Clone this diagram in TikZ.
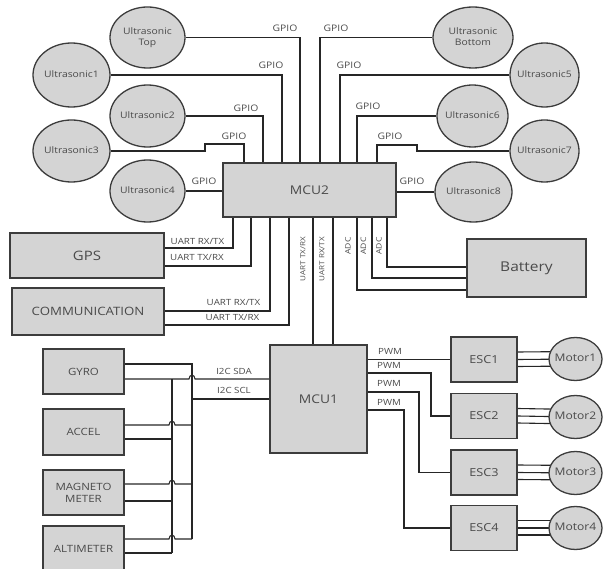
\documentclass[tikz,border=0pt]{standalone}
\usepackage{fontspec}
\setmainfont{Open Sans}[FakeStretch=1.15]
\usetikzlibrary{shapes.geometric,calc,backgrounds}
\definecolor{boxfill}{HTML}{D4D4D4}
\definecolor{edgec}{HTML}{3C3C3C}
\definecolor{txtc}{HTML}{4A4A4A}
\definecolor{wirec}{HTML}{262626}
\newcommand{\zbox}[1]{\makebox[0pt][c]{\begin{tabular}{@{}c@{}}#1\end{tabular}}}
\begin{document}
\begin{tikzpicture}[x=1pt,y=-1pt,
  blk/.style={draw=edgec,fill=boxfill,line width=1.3pt,inner sep=0pt,text=txtc},
  usn/.style={ellipse,draw=edgec,fill=boxfill,line width=1.3pt,inner sep=0pt,text=txtc,font=\fontsize{9}{11}\selectfont},
  wire/.style={draw=wirec,line width=1.1pt},
  thickwire/.style={draw=wirec,line width=1.9pt},
  lbl/.style={inner sep=0pt,text=txtc,font=\fontsize{8.5}{9}\selectfont},
  gpio/.style={lbl,font=\fontsize{9}{9}\selectfont},
  vlbl/.style={lbl,rotate=90,font=\fontsize{7}{8}\selectfont}]
\useasboundingbox (0,0) rectangle (603,569);

% main blocks
\node[blk,minimum width=173pt,minimum height=54pt,font=\fontsize{12}{14}\selectfont] (mcu2) at (309.5,190) {MCU2};
\node[blk,minimum width=97pt,minimum height=108pt,font=\fontsize{12}{14}\selectfont] (mcu1) at (318.5,399) {MCU1};
\node[blk,minimum width=154pt,minimum height=45pt,font=\fontsize{13}{15}\selectfont] (gps) at (87,255.5) {GPS};
\node[blk,minimum width=152pt,minimum height=47pt,font=\fontsize{11.5}{13}\selectfont] (comm) at (88,311.5) {COMMUNICATION};
\node[blk,minimum width=119pt,minimum height=58pt,font=\fontsize{13.5}{15}\selectfont] (battery) at (526.5,268) {Battery};

% sensors
\node[blk,minimum width=81pt,minimum height=45pt,font=\fontsize{10}{12}\selectfont] (gyro) at (83.5,371.5) {GYRO};
\node[blk,minimum width=81pt,minimum height=46pt,font=\fontsize{10}{12}\selectfont] (accel) at (83.5,432) {ACCEL};
\node[blk,minimum width=81pt,minimum height=45pt,font=\fontsize{10}{12}\selectfont,align=center] (magneto) at (83.5,492.5) {MAGNETO\\METER};
\node[blk,minimum width=81pt,minimum height=46pt,font=\fontsize{10}{12}\selectfont] (alt) at (83.5,549) {ALTIMETER};

% ESCs and motors
\foreach \i/\y/\my in {1/359.5/359,2/416/417,3/472.5/473,4/528/528}{
  \node[blk,minimum width=66pt,minimum height=45pt,font=\fontsize{11}{13}\selectfont] (esc\i) at (484,\y) {ESC\i};
  \node[usn,minimum width=53pt,minimum height=43pt,font=\fontsize{10.5}{12}\selectfont] (motor\i) at (575.5,\my) {\zbox{Motor\i}};
}

% ultrasonic sensors
\node[usn,minimum width=75pt,minimum height=61pt] (ustop) at (147.5,37.5) {\zbox{Ultrasonic\\Top}};
\node[usn,minimum width=77pt,minimum height=64pt] (us1) at (71.5,75) {\zbox{Ultrasonic1}};
\node[usn,minimum width=75pt,minimum height=62pt] (us2) at (147.5,116) {\zbox{Ultrasonic2}};
\node[usn,minimum width=77pt,minimum height=62pt] (us3) at (71.5,151) {\zbox{Ultrasonic3}};
\node[usn,minimum width=75pt,minimum height=62pt] (us4) at (147.5,191) {\zbox{Ultrasonic4}};
\node[usn,minimum width=80pt,minimum height=61pt] (usbot) at (473,37.5) {\zbox{Ultrasonic\\Bottom}};
\node[usn,minimum width=69pt,minimum height=64pt] (us5) at (544.5,75) {\zbox{Ultrasonic5}};
\node[usn,minimum width=71pt,minimum height=62pt] (us6) at (472.5,116) {\zbox{Ultrasonic6}};
\node[usn,minimum width=69pt,minimum height=62pt] (us7) at (544.5,151) {\zbox{Ultrasonic7}};
\node[usn,minimum width=77pt,minimum height=60pt] (us8) at (473.5,192) {\zbox{Ultrasonic8}};

\begin{pgfonlayer}{background}
% GPIO connections
\draw[wire] (ustop.east) -| (mcu2.north -| 300,0);
\draw[thickwire] (us1.east) -| (mcu2.north -| 282,0);
\draw[wire] (us2.east) -| (mcu2.north -| 263,0);
\draw[wire] (us3.east) -| (205,144) -| (mcu2.north -| 244,0);
\draw[wire] (us4.east) -- (mcu2.west |- us4.east);
\draw[wire] (usbot.west) -| (mcu2.north -| 320,0);
\draw[thickwire] (us5.west) -| (mcu2.north -| 340,0);
\draw[wire] (us6.west) -| (mcu2.north -| 357,0);
\draw[wire] (us7.west) -| (417,145) -| (mcu2.north -| 377,0);
\draw[wire] (us8.west) -- (mcu2.east |- us8.west);
% UART
\draw[wire] (gps.east |- 0,248) -| (mcu2.south -| 233,0);
\draw[wire] (gps.east |- 0,266) -| (mcu2.south -| 251,0);
\draw[wire] (comm.east |- 0,311) -| (mcu2.south -| 270,0);
\draw[wire] (comm.east |- 0,325) -| (mcu2.south -| 289,0);
\draw[wire] (mcu2.south -| 313,0) -- (mcu1.north -| 313,0);
\draw[wire] (mcu2.south -| 333,0) -- (mcu1.north -| 333,0);
% ADC
\draw[wire] (mcu2.south -| 387,0) |- (battery.west |- 0,267);
\draw[wire] (mcu2.south -| 372,0) |- (battery.west |- 0,278);
\draw[wire] (mcu2.south -| 357,0) |- (battery.west |- 0,290);
% PWM
\draw[wire] (mcu1.east |- esc1.west) -- (esc1.west);
\draw[wire] (mcu1.east |- 0,373) -| (431,416) -- (esc2.west);
\draw[wire] (mcu1.east |- 0,392) -| (419,472.5) -- (esc3.west);
\draw[wire] (mcu1.east |- 0,410) -| (404,528) -- (esc4.west);
\foreach \i in {1,...,4}{
  \foreach \o in {-7.5,0,7}{
    \draw[wire] ($(esc\i.east)+(0,\o)$) -- ($(motor\i.center)+(0,\o)$);
  }
}
% I2C
\draw[wire] (gyro.east |- 0,364) -| (192,539);
\draw[wire] (gyro.east |- 0,379) -- (189,379) .. controls (189,374) and (195,374) .. (195,379) -- (mcu1.west |- 0,379);
\draw[wire] (172,379) -- (172,553);
\draw[wire] (192,399) -- (mcu1.west |- 0,399);
\draw[wire] (accel.east |- 0,425) -- (169,425) .. controls (169,420) and (175,420) .. (175,425) -- (192,425);
\draw[wire] (accel.east |- 0,439) -- (172,439);
\draw[wire] (magneto.east |- 0,484) -- (169,484) .. controls (169,479) and (175,479) .. (175,484) -- (192,484);
\draw[wire] (magneto.east |- 0,501) -- (172,501);
\draw[wire] (alt.east |- 0,539) -- (169,539) .. controls (169,534) and (175,534) .. (175,539) -- (192,539);
\draw[wire] (alt.east |- 0,553) -- (172,553);
\end{pgfonlayer}

% labels
\node[gpio] (g1) at (285,28) {GPIO};
\node[gpio] (g2) at (271,65) {GPIO};
\node[gpio] (g3) at (246,108) {GPIO};
\node[gpio] (g4) at (234,136) {GPIO};
\node[gpio] (g5) at (204,181) {GPIO};
\node[gpio] (g6) at (336,28) {GPIO};
\node[gpio] (g7) at (349,65) {GPIO};
\node[gpio] (g8) at (368,106) {GPIO};
\node[gpio] (g9) at (390,136) {GPIO};
\node[gpio] (g10) at (412,181) {GPIO};
\node[lbl] (u1) at (197.5,241) {UART RX/TX};
\node[lbl] (u2) at (197,257) {UART TX/RX};
\node[lbl] (u3) at (233.5,302) {UART RX/TX};
\node[lbl] (u4) at (232.5,317) {UART TX/RX};
\node[vlbl] (v1) at (303,259) {UART TX/RX};
\node[vlbl] (v2) at (322,259) {UART RX/TX};
\node[vlbl,font=\fontsize{7.5}{8}\selectfont] (a1) at (348,246) {ADC};
\node[vlbl,font=\fontsize{7.5}{8}\selectfont] (a2) at (363.5,246) {ADC};
\node[vlbl,font=\fontsize{7.5}{8}\selectfont] (a3) at (379,246) {ADC};
\node[lbl] (i1) at (234,371) {I2C SDA};
\node[lbl] (i2) at (234,390) {I2C SCL};
\node[lbl] (p1) at (390,351) {PWM};
\node[lbl] (p2) at (389,365) {PWM};
\node[lbl] (p3) at (389,383) {PWM};
\node[lbl] (p4) at (389,402) {PWM};
\end{tikzpicture}
\end{document}
